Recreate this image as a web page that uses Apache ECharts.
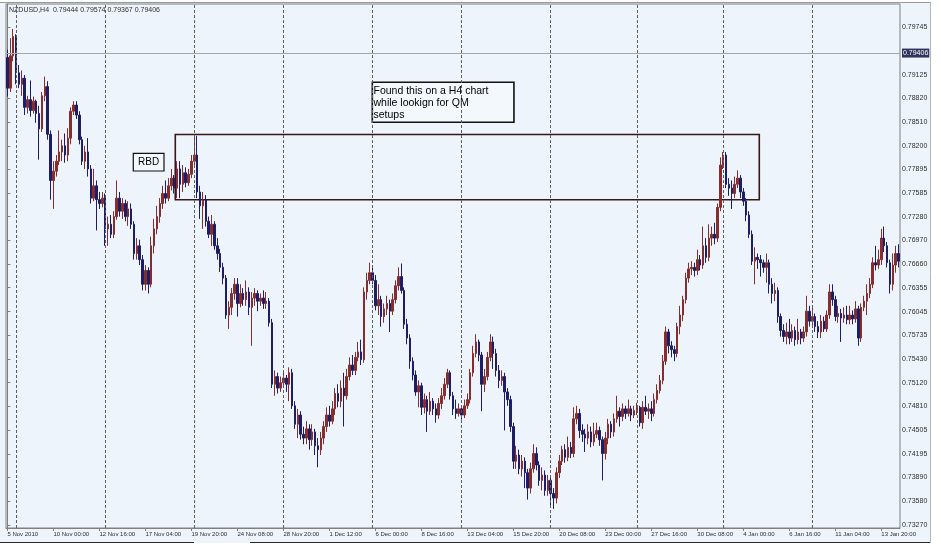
<!DOCTYPE html>
<html><head><meta charset="utf-8">
<script src="https://cdn.jsdelivr.net/npm/echarts@6/dist/echarts.min.js"></script>
<style>html,body{margin:0;padding:0;background:#fff;}#c{width:941px;height:553px;}</style>
</head><body><div id="c"></div>
<script>
const symbolTitle = 'NZDUSD,H4';
const headerValues = ['0.79444', '0.79574', '0.79367', '0.79406'];

const opens = [
0.7935,0.7895,0.7937,0.7962,0.7915,0.7900,0.7908,0.7870,0.7880,0.7866,
0.7878,0.7862,0.7842,0.7885,0.7897,0.7835,0.7775,0.7787,0.7800,0.7812,
0.7820,0.7808,0.7830,0.7865,0.7873,0.7860,0.7828,0.7800,0.7812,0.7790,
0.7752,0.7768,0.7750,0.7745,0.7752,0.7712,0.7718,0.7705,0.7728,0.7752,
0.7735,0.7745,0.7728,0.7738,0.7718,0.7680,0.7690,0.7672,0.7640,0.7658,
0.7640,0.7690,0.7712,0.7728,0.7745,0.7758,0.7752,0.7768,0.7778,0.7765,
0.7790,0.7770,0.7785,0.7772,0.7783,0.7800,0.7808,0.7760,0.7742,0.7750,
0.7722,0.7705,0.7718,0.7690,0.7680,0.7662,0.7648,0.7600,0.7610,0.7628,
0.7640,0.7615,0.7628,0.7620,0.7630,0.7610,0.7622,0.7628,0.7618,0.7622,
0.7615,0.7618,0.7590,0.7510,0.7520,0.7505,0.7512,0.7518,0.7510,0.7525,
0.7482,0.7458,0.7470,0.7445,0.7440,0.7452,0.7438,0.7448,0.7430,0.7425,
0.7440,0.7455,0.7470,0.7462,0.7478,0.7498,0.7488,0.7505,0.7495,0.7520,
0.7535,0.7528,0.7545,0.7552,0.7542,0.7630,0.7645,0.7655,0.7645,0.7612,
0.7620,0.7598,0.7608,0.7615,0.7605,0.7620,0.7638,0.7650,0.7632,0.7588,
0.7570,0.7540,0.7522,0.7500,0.7508,0.7480,0.7490,0.7475,0.7488,0.7478,
0.7470,0.7485,0.7495,0.7510,0.7525,0.7495,0.7478,0.7472,0.7478,0.7470,
0.7482,0.7490,0.7525,0.7550,0.7565,0.7548,0.7510,0.7520,0.7545,0.7565,
0.7550,0.7528,0.7515,0.7520,0.7500,0.7490,0.7455,0.7410,0.7418,0.7400,
0.7410,0.7395,0.7375,0.7400,0.7420,0.7405,0.7385,0.7392,0.7372,0.7385,
0.7368,0.7362,0.7395,0.7410,0.7425,0.7415,0.7428,0.7420,0.7465,0.7472,
0.7450,0.7445,0.7440,0.7448,0.7435,0.7445,0.7450,0.7438,0.7420,0.7440,
0.7458,0.7448,0.7465,0.7475,0.7468,0.7478,0.7472,0.7478,0.7470,0.7476,
0.7480,0.7460,0.7480,0.7475,0.7478,0.7472,0.7490,0.7502,0.7515,0.7540,
0.7578,0.7560,0.7555,0.7550,0.7585,0.7600,0.7620,0.7648,0.7660,0.7662,
0.7658,0.7672,0.7665,0.7690,0.7675,0.7700,0.7705,0.7700,0.7740,0.7795,
0.7808,0.7770,0.7765,0.7758,0.7770,0.7778,0.7760,0.7748,0.7730,0.7705,
0.7670,0.7675,0.7672,0.7668,0.7662,0.7668,0.7640,0.7628,0.7632,0.7598,
0.7580,0.7572,0.7578,0.7570,0.7580,0.7568,0.7578,0.7570,0.7578,0.7605,
0.7592,0.7598,0.7585,0.7578,0.7592,0.7582,0.7600,0.7630,0.7620,0.7598,
0.7602,0.7596,0.7600,0.7594,0.7600,0.7595,0.7608,0.7570,0.7610,0.7618,
0.7628,0.7640,0.7668,0.7665,0.7672,0.7700,0.7690,0.7668,0.7640,0.7665,0.7680
];

const closes = [
0.7895,0.7937,0.7962,0.7915,0.7900,0.7908,0.7870,0.7880,0.7866,0.7878,
0.7862,0.7842,0.7885,0.7897,0.7835,0.7775,0.7787,0.7800,0.7812,0.7820,
0.7808,0.7830,0.7865,0.7873,0.7860,0.7828,0.7800,0.7812,0.7790,0.7752,
0.7768,0.7750,0.7745,0.7752,0.7712,0.7718,0.7705,0.7728,0.7752,0.7735,
0.7745,0.7728,0.7738,0.7718,0.7680,0.7690,0.7672,0.7640,0.7658,0.7640,
0.7690,0.7712,0.7728,0.7745,0.7758,0.7752,0.7768,0.7778,0.7765,0.7790,
0.7770,0.7785,0.7772,0.7783,0.7800,0.7808,0.7760,0.7742,0.7750,0.7722,
0.7705,0.7718,0.7690,0.7680,0.7662,0.7648,0.7600,0.7610,0.7628,0.7640,
0.7615,0.7628,0.7620,0.7630,0.7610,0.7622,0.7628,0.7618,0.7622,0.7615,
0.7618,0.7590,0.7510,0.7520,0.7505,0.7512,0.7518,0.7510,0.7525,0.7482,
0.7458,0.7470,0.7445,0.7440,0.7452,0.7438,0.7448,0.7430,0.7425,0.7440,
0.7455,0.7470,0.7462,0.7478,0.7498,0.7488,0.7505,0.7495,0.7520,0.7535,
0.7528,0.7545,0.7552,0.7542,0.7630,0.7645,0.7655,0.7645,0.7612,0.7620,
0.7598,0.7608,0.7615,0.7605,0.7620,0.7638,0.7650,0.7632,0.7588,0.7570,
0.7540,0.7522,0.7500,0.7508,0.7480,0.7490,0.7475,0.7488,0.7478,0.7470,
0.7485,0.7495,0.7510,0.7525,0.7495,0.7478,0.7472,0.7478,0.7470,0.7482,
0.7490,0.7525,0.7550,0.7565,0.7548,0.7510,0.7520,0.7545,0.7565,0.7550,
0.7528,0.7515,0.7520,0.7500,0.7490,0.7455,0.7410,0.7418,0.7400,0.7410,
0.7395,0.7375,0.7400,0.7420,0.7405,0.7385,0.7392,0.7372,0.7385,0.7368,
0.7362,0.7395,0.7410,0.7425,0.7415,0.7428,0.7420,0.7465,0.7472,0.7450,
0.7445,0.7440,0.7448,0.7435,0.7445,0.7450,0.7438,0.7420,0.7440,0.7458,
0.7448,0.7465,0.7475,0.7468,0.7478,0.7472,0.7478,0.7470,0.7476,0.7480,
0.7460,0.7480,0.7475,0.7478,0.7472,0.7490,0.7502,0.7515,0.7540,0.7578,
0.7560,0.7555,0.7550,0.7585,0.7600,0.7620,0.7648,0.7660,0.7662,0.7658,
0.7672,0.7665,0.7690,0.7675,0.7700,0.7705,0.7700,0.7740,0.7795,0.7808,
0.7770,0.7765,0.7758,0.7770,0.7778,0.7760,0.7748,0.7730,0.7705,0.7670,
0.7675,0.7672,0.7668,0.7662,0.7668,0.7640,0.7628,0.7632,0.7598,0.7580,
0.7572,0.7578,0.7570,0.7580,0.7568,0.7578,0.7570,0.7578,0.7605,0.7592,
0.7598,0.7585,0.7578,0.7592,0.7582,0.7600,0.7630,0.7620,0.7598,0.7602,
0.7596,0.7600,0.7594,0.7600,0.7595,0.7608,0.7570,0.7610,0.7618,0.7628,
0.7640,0.7668,0.7665,0.7672,0.7700,0.7690,0.7668,0.7640,0.7665,0.7680,0.7670
];

const lows = [
0.7884,0.7890,0.7930,0.7900,0.7895,0.7885,0.7860,0.7862,0.7858,0.7862,
0.7850,0.7802,0.7838,0.7878,0.7828,0.7750,0.7738,0.7780,0.7795,0.7800,
0.7798,0.7800,0.7822,0.7860,0.7855,0.7822,0.7795,0.7790,0.7780,0.7745,
0.7748,0.7710,0.7738,0.7740,0.7690,0.7690,0.7700,0.7700,0.7724,0.7728,
0.7725,0.7722,0.7716,0.7712,0.7672,0.7672,0.7665,0.7632,0.7632,0.7628,
0.7636,0.7680,0.7705,0.7720,0.7738,0.7745,0.7748,0.7762,0.7758,0.7752,
0.7752,0.7760,0.7766,0.7768,0.7778,0.7795,0.7752,0.7725,0.7712,0.7715,
0.7700,0.7690,0.7685,0.7672,0.7656,0.7640,0.7595,0.7582,0.7600,0.7620,
0.7598,0.7610,0.7612,0.7612,0.7600,0.7560,0.7612,0.7605,0.7612,0.7608,
0.7608,0.7585,0.7505,0.7495,0.7498,0.7500,0.7505,0.7500,0.7488,0.7478,
0.7452,0.7440,0.7438,0.7432,0.7432,0.7425,0.7430,0.7418,0.7402,0.7418,
0.7432,0.7448,0.7455,0.7458,0.7470,0.7480,0.7480,0.7455,0.7490,0.7515,
0.7522,0.7522,0.7540,0.7535,0.7538,0.7620,0.7640,0.7640,0.7606,0.7600,
0.7585,0.7590,0.7600,0.7578,0.7600,0.7615,0.7632,0.7628,0.7582,0.7562,
0.7530,0.7515,0.7495,0.7480,0.7470,0.7472,0.7448,0.7470,0.7470,0.7460,
0.7465,0.7478,0.7490,0.7505,0.7490,0.7470,0.7465,0.7468,0.7464,0.7466,
0.7478,0.7485,0.7520,0.7545,0.7540,0.7475,0.7500,0.7515,0.7540,0.7530,
0.7520,0.7505,0.7508,0.7450,0.7482,0.7448,0.7400,0.7400,0.7393,0.7390,
0.7375,0.7360,0.7368,0.7395,0.7398,0.7378,0.7372,0.7365,0.7365,0.7350,
0.7348,0.7355,0.7388,0.7405,0.7408,0.7410,0.7414,0.7415,0.7458,0.7440,
0.7435,0.7422,0.7432,0.7428,0.7430,0.7440,0.7430,0.7385,0.7412,0.7432,
0.7440,0.7442,0.7460,0.7455,0.7462,0.7465,0.7468,0.7462,0.7466,0.7470,
0.7455,0.7452,0.7470,0.7465,0.7462,0.7468,0.7485,0.7498,0.7510,0.7535,
0.7550,0.7545,0.7540,0.7545,0.7575,0.7592,0.7615,0.7642,0.7652,0.7650,
0.7652,0.7658,0.7660,0.7668,0.7670,0.7690,0.7692,0.7695,0.7735,0.7790,
0.7765,0.7755,0.7738,0.7752,0.7765,0.7752,0.7742,0.7722,0.7700,0.7665,
0.7640,0.7660,0.7650,0.7655,0.7642,0.7628,0.7615,0.7618,0.7590,0.7572,
0.7565,0.7562,0.7562,0.7565,0.7560,0.7562,0.7562,0.7565,0.7572,0.7585,
0.7585,0.7578,0.7570,0.7570,0.7578,0.7578,0.7595,0.7612,0.7592,0.7590,
0.7565,0.7590,0.7588,0.7588,0.7588,0.7590,0.7560,0.7565,0.7605,0.7600,
0.7622,0.7635,0.7658,0.7660,0.7665,0.7682,0.7662,0.7628,0.7632,0.7655,0.7662
];

const highs = [
0.7945,0.7960,0.7972,0.7965,0.7925,0.7918,0.7912,0.7885,0.7905,0.7884,
0.7880,0.7872,0.7890,0.7910,0.7904,0.7840,0.7800,0.7808,0.7840,0.7828,
0.7836,0.7843,0.7870,0.7878,0.7878,0.7865,0.7832,0.7820,0.7830,0.7795,
0.7790,0.7775,0.7760,0.7760,0.7758,0.7728,0.7730,0.7735,0.7775,0.7760,
0.7752,0.7750,0.7748,0.7745,0.7722,0.7700,0.7698,0.7678,0.7665,0.7662,
0.7702,0.7725,0.7742,0.7752,0.7768,0.7775,0.7778,0.7790,0.7782,0.7800,
0.7800,0.7795,0.7792,0.7790,0.7808,0.7835,0.7833,0.7768,0.7760,0.7756,
0.7728,0.7730,0.7722,0.7700,0.7686,0.7668,0.7652,0.7618,0.7635,0.7648,
0.7648,0.7640,0.7635,0.7645,0.7636,0.7630,0.7635,0.7632,0.7628,0.7632,
0.7630,0.7622,0.7595,0.7528,0.7525,0.7520,0.7525,0.7522,0.7532,0.7530,
0.7488,0.7478,0.7475,0.7455,0.7462,0.7458,0.7458,0.7452,0.7440,0.7448,
0.7462,0.7480,0.7482,0.7488,0.7505,0.7510,0.7515,0.7525,0.7530,0.7545,
0.7548,0.7552,0.7565,0.7568,0.7636,0.7655,0.7668,0.7662,0.7652,0.7640,
0.7625,0.7615,0.7625,0.7620,0.7628,0.7645,0.7662,0.7667,0.7636,0.7595,
0.7575,0.7545,0.7528,0.7515,0.7512,0.7498,0.7495,0.7500,0.7492,0.7485,
0.7492,0.7505,0.7518,0.7530,0.7528,0.7500,0.7490,0.7485,0.7482,0.7490,
0.7498,0.7530,0.7560,0.7575,0.7568,0.7552,0.7530,0.7552,0.7575,0.7572,
0.7556,0.7535,0.7528,0.7525,0.7505,0.7495,0.7460,0.7430,0.7425,0.7418,
0.7415,0.7400,0.7408,0.7432,0.7428,0.7410,0.7402,0.7398,0.7392,0.7390,
0.7375,0.7402,0.7418,0.7430,0.7432,0.7442,0.7435,0.7480,0.7482,0.7478,
0.7458,0.7452,0.7458,0.7455,0.7460,0.7460,0.7455,0.7442,0.7448,0.7465,
0.7462,0.7472,0.7495,0.7480,0.7485,0.7482,0.7490,0.7482,0.7482,0.7486,
0.7482,0.7488,0.7495,0.7485,0.7488,0.7498,0.7510,0.7522,0.7548,0.7585,
0.7582,0.7566,0.7560,0.7590,0.7612,0.7625,0.7655,0.7668,0.7670,0.7668,
0.7685,0.7678,0.7715,0.7700,0.7718,0.7715,0.7720,0.7745,0.7805,0.7812,
0.7812,0.7778,0.7775,0.7780,0.7788,0.7782,0.7765,0.7752,0.7735,0.7710,
0.7688,0.7680,0.7678,0.7672,0.7680,0.7672,0.7648,0.7642,0.7636,0.7602,
0.7588,0.7590,0.7595,0.7588,0.7585,0.7595,0.7582,0.7585,0.7625,0.7612,
0.7610,0.7602,0.7592,0.7600,0.7598,0.7606,0.7640,0.7640,0.7625,0.7612,
0.7608,0.7610,0.7612,0.7612,0.7606,0.7618,0.7612,0.7615,0.7625,0.7640,
0.7648,0.7675,0.7690,0.7685,0.7712,0.7715,0.7695,0.7672,0.7680,0.7690,0.7692
];

const xLabels = ['5 Nov 2010','10 Nov 00:00','12 Nov 16:00','17 Nov 04:00','19 Nov 20:00',
  '24 Nov 08:00','28 Nov 20:00','1 Dec 12:00','6 Dec 00:00','8 Dec 16:00','13 Dec 04:00',
  '15 Dec 20:00','20 Dec 08:00','23 Dec 00:00','27 Dec 16:00','30 Dec 08:00','4 Jan 00:00',
  '6 Jan 16:00','11 Jan 04:00','13 Jan 20:00'];
const barsPerLabel = 16;
const yTicks = [0.79745,0.79125,0.78820,0.78510,0.78200,0.77895,0.77585,0.77280,0.76970,
  0.76660,0.76355,0.76045,0.75735,0.75430,0.75120,0.74810,0.74505,0.74195,0.73890,0.73580,0.73270];
const bidPrice = 0.79406;
const weekStartBars = [3, 34, 65, 96, 127, 158, 189, 219, 249, 280];
const yMin = 0.73231, yMax = 0.80044;

// annotation boxes: [bar position, price] corners
const zoneBox = [[58.39, 0.78347], [261.55, 0.77498]];
const noteBox = [[126.93, 0.79026], [176.2, 0.78506]];
const noteText = 'Found this on a H4 chart\nwhile lookign for QM\nsetups';
const rbdBox = [[43.78, 0.78103], [54.46, 0.77873]];
const rbdText = 'RBD';

const categories = opens.map((_, i) => String(i));
const candleData = opens.map((o, i) => [o, closes[i], lows[i], highs[i]]);
const yLabelValues = yTicks.concat([bidPrice]);

const FONT = '"Liberation Sans", Arial, sans-serif';
const BULL = '#862D2D', BEAR = '#1E1E66';

const chart = echarts.init(document.getElementById('c'), null, {renderer: 'canvas'});
chart.setOption({
  animation: false,
  backgroundColor: '#EEF4FB',
  textStyle: {fontFamily: FONT},
  grid: {left: 6, right: 41, top: 4, bottom: 25, show: true, borderColor: '#808080', borderWidth: 1,
         backgroundColor: 'transparent', outerBoundsMode: 'none', containLabel: false},
  xAxis: [{
    type: 'category', data: categories, boundaryGap: true,
    axisLine: {show: true, lineStyle: {color: '#808080', width: 1}},
    axisTick: {show: true, alignWithLabel: true, length: 3, interval: (i) => i % barsPerLabel === 0,
               lineStyle: {color: '#808080'}},
    axisLabel: {interval: (i) => i % barsPerLabel === 0, showMinLabel: true, showMaxLabel: true,
                hideOverlap: false,
                formatter: (v, i) => xLabels[i / barsPerLabel] || '',
                align: 'left', margin: 3, fontSize: 6, color: '#2F2F2F', fontFamily: FONT},
    splitLine: {show: false}
  }, {
    type: 'value', min: -0.5, max: categories.length - 0.5, show: false
  }],
  yAxis: [{
    type: 'value', position: 'right', min: yMin, max: yMax, scale: true,
    axisLine: {show: true, lineStyle: {color: '#808080'}},
    axisTick: {show: true, length: 3, customValues: yLabelValues, lineStyle: {color: '#808080'}},
    axisLabel: {
      customValues: yLabelValues, margin: 2, fontSize: 7, color: '#2F2F2F', fontFamily: FONT,
      showMinLabel: true, showMaxLabel: true,
      formatter: (v) => Math.abs(v - bidPrice) < 1e-7 ? '{hl|' + v.toFixed(5) + '}' : v.toFixed(5),
      rich: {hl: {backgroundColor: '#33335F', color: '#FFFFFF', fontSize: 7, padding: [1, 1, 1, 1], fontFamily: FONT}}
    },
    splitLine: {show: false}
  }],
  series: [{
    type: 'candlestick', xAxisIndex: 0, yAxisIndex: 0,
    data: candleData, barWidth: 2, silent: true,
    itemStyle: {color: BULL, color0: BEAR, borderColor: BULL, borderColor0: BEAR, borderWidth: 1},
    markLine: {
      silent: true, symbol: 'none', label: {show: false}, animation: false,
      data: weekStartBars.map(b => ({xAxis: b, lineStyle: {type: [3, 2], color: '#5E5E5E', width: 1}}))
    }
  }, {
    type: 'line', xAxisIndex: 1, yAxisIndex: 0, data: [], silent: true, symbol: 'none',
    markLine: {
      silent: true, symbol: 'none', label: {show: false}, animation: false,
      data: [[{coord: [-0.5, bidPrice]}, {coord: [categories.length - 0.5, bidPrice]}]],
      lineStyle: {type: 'solid', color: '#A6A6A6', width: 1}
    },
    markArea: {
      silent: true, animation: false,
      data: [
        [{xAxis: zoneBox[0][0], yAxis: zoneBox[0][1],
          itemStyle: {color: 'rgba(0,0,0,0)', borderColor: '#3A1616', borderWidth: 1.6}},
         {xAxis: zoneBox[1][0], yAxis: zoneBox[1][1]}],
        [{xAxis: noteBox[0][0], yAxis: noteBox[0][1],
          itemStyle: {color: 'rgba(246,250,255,0.6)', borderColor: '#111111', borderWidth: 1.6},
          label: {show: true, position: 'insideTopLeft', distance: 2, formatter: noteText,
                  color: '#000', fontSize: 10.5, lineHeight: 12.3, fontFamily: FONT, padding: [1, 0, 0, 0]}},
         {xAxis: noteBox[1][0], yAxis: noteBox[1][1]}],
        [{xAxis: rbdBox[0][0], yAxis: rbdBox[0][1],
          itemStyle: {color: 'rgba(246,250,255,0.6)', borderColor: '#111111', borderWidth: 1.2},
          label: {show: true, position: 'inside', formatter: rbdText,
                  color: '#000', fontSize: 10, fontFamily: FONT}},
         {xAxis: rbdBox[1][0], yAxis: rbdBox[1][1]}]
      ]
    }
  }],
  graphic: [
    {type: 'rect', shape: {x: 0, y: 0, width: 941, height: 2}, style: {fill: '#FFFFFF'}, silent: true},
    {type: 'line', shape: {x1: 0, y1: 2.5, x2: 930, y2: 2.5}, style: {stroke: '#9A9A9A', lineWidth: 1}, silent: true},
    {type: 'rect', shape: {x: 931, y: 0, width: 10, height: 553}, style: {fill: '#FFFFFF'}, silent: true},
    {type: 'line', shape: {x1: 930.5, y1: 2, x2: 930.5, y2: 543}, style: {stroke: '#B5B5B5', lineWidth: 1}, silent: true},
    {type: 'rect', shape: {x: 0, y: 543, width: 941, height: 10}, style: {fill: '#FFFFFF'}, silent: true},
    {type: 'line', shape: {x1: 0, y1: 542.5, x2: 194, y2: 542.5}, style: {stroke: '#2A2A2A', lineWidth: 1.2}, silent: true},
    {type: 'line', shape: {x1: 250, y1: 542.5, x2: 930, y2: 542.5}, style: {stroke: '#2A2A2A', lineWidth: 1.2}, silent: true},
    {type: 'text', left: 9, top: 7, silent: true,
     style: {text: symbolTitle + '  ' + headerValues.join(' '), fill: '#2F2F2F', font: '7px ' + FONT}}
  ]
});
</script>
</body></html>
